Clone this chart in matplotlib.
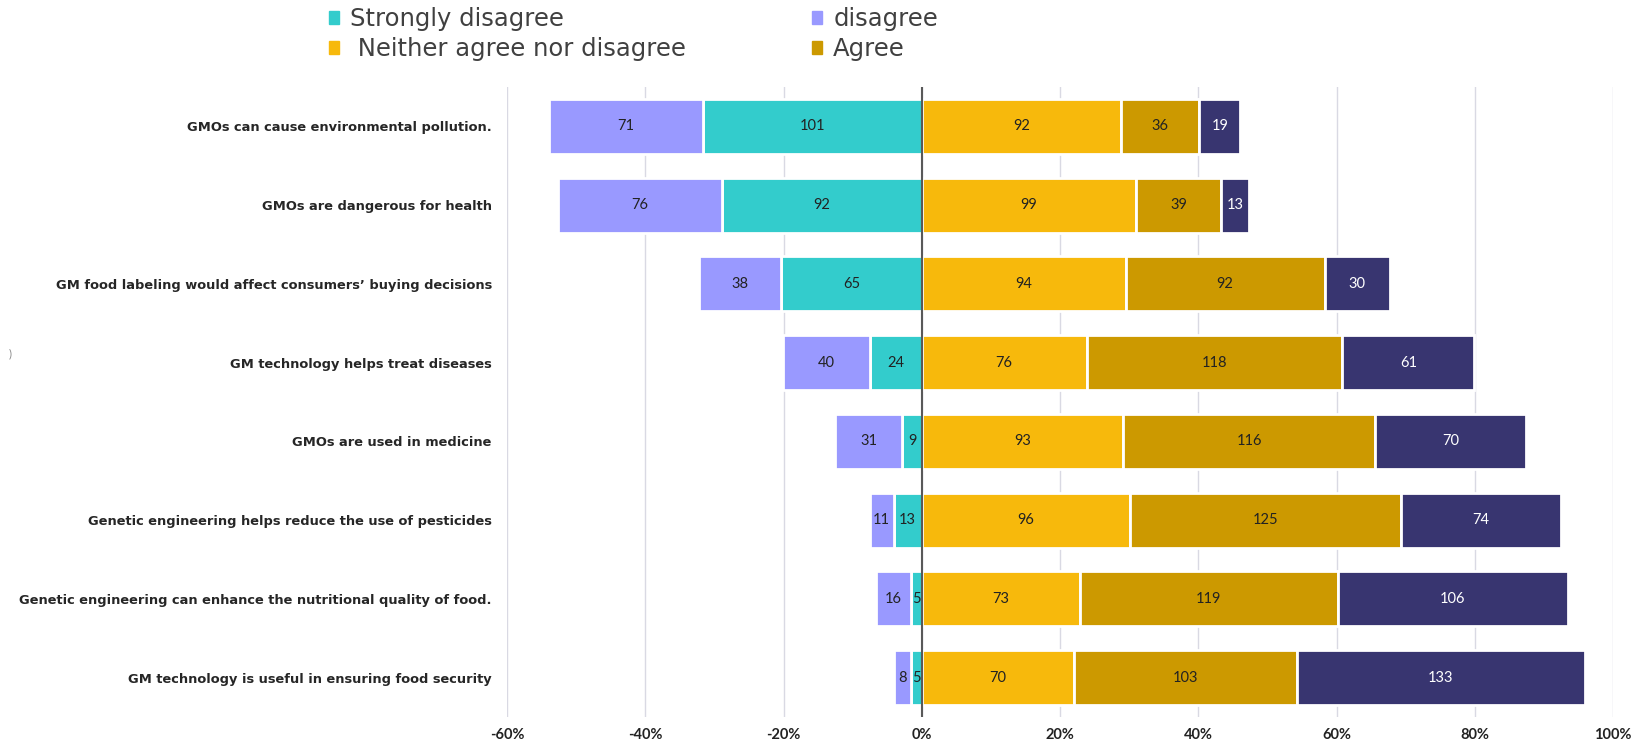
import numpy as np
import matplotlib.pyplot as plt
from matplotlib.patches import Patch
from matplotlib.ticker import FuncFormatter

statements = [
    "GMOs can cause environmental pollution.",
    "GMOs are dangerous for health",
    "GM food labeling would affect consumers\u2019 buying decisions",
    "GM technology helps treat diseases",
    "GMOs are used in medicine",
    "Genetic engineering helps reduce the use of pesticides",
    "Genetic engineering can enhance the nutritional quality of food.",
    "GM technology is useful in ensuring food security",
]

strongly_disagree = [101, 92, 65, 24, 9, 13, 5, 5]
disagree = [71, 76, 38, 40, 31, 11, 16, 8]
neutral = [92, 99, 94, 76, 93, 96, 73, 70]
agree = [36, 39, 92, 118, 116, 125, 119, 103]
strongly_agree = [19, 13, 30, 61, 70, 74, 106, 133]

x_ticks = [-0.6, -0.4, -0.2, 0.0, 0.2, 0.4, 0.6, 0.8, 1.0]

colors = {
    "sd": "#33CCCC",
    "d": "#9999FF",
    "n": "#F7B90C",
    "a": "#CC9900",
    "sa": "#383570",
}

plt.rcParams["font.family"] = ["Lato", "DejaVu Sans"]

sd = np.array(strongly_disagree)
d = np.array(disagree)
n = np.array(neutral)
a = np.array(agree)
sa = np.array(strongly_agree)
total = sd + d + n + a + sa

y = np.arange(len(statements))
fig = plt.figure(figsize=(16.32, 7.44), dpi=100)
ax = fig.add_axes([0.3107, 0.0363, 0.6777, 0.8467])

# negative side: strongly disagree next to zero, disagree beyond it
segments = [
    (sd, -sd / total, 0, colors["sd"], "#222222"),
    (d, -d / total, -sd / total, colors["d"], "#222222"),
    (n, n / total, 0, colors["n"], "#222222"),
    (a, a / total, n / total, colors["a"], "#222222"),
    (sa, sa / total, (n + a) / total, colors["sa"], "white"),
]

for counts, width, left, col, txt in segments:
    bars = ax.barh(y, width, left=left, height=0.7, color=col,
                   edgecolor="white", linewidth=2, zorder=2)
    for i, b in enumerate(bars):
        cx = b.get_x() + b.get_width() / 2
        ax.text(cx, y[i], str(counts[i]), ha="center", va="center",
                fontsize=10.5, color=txt, zorder=3)

ax.axvline(0, color="#595959", linewidth=1.5, zorder=4)

ax.set_xlim(-0.6, 1.0)
ax.set_ylim(len(statements) - 0.5, -0.5)
ax.set_xticks(x_ticks)
ax.xaxis.set_major_formatter(FuncFormatter(lambda v, _: f"{v * 100:.0f}%"))
ax.grid(axis="x", color="#D9D9E3", linewidth=1, zorder=0)
ax.set_axisbelow(True)
ax.set_yticks(y)
ax.set_yticklabels(statements, fontsize=9.4, fontweight="bold", color="#262626",
                   family="DejaVu Sans")
ax.tick_params(axis="both", length=0)
ax.tick_params(axis="y", pad=11)
ax.tick_params(axis="x", pad=8, labelsize=10.5, labelcolor="#222222")
for lbl in ax.get_xticklabels():
    lbl.set_fontweight("bold")
for s in ax.spines.values():
    s.set_visible(False)

handles = [
    Patch(color=colors["sd"], label="Strongly disagree"),
    Patch(color=colors["d"], label="disagree"),
    Patch(color=colors["n"], label=" Neither agree nor disagree"),
    Patch(color=colors["a"], label="Agree"),
]
fig.legend(handles=[handles[0], handles[2], handles[1], handles[3]], ncol=2,
           loc="upper left", bbox_to_anchor=(0.188, 1.02), frameon=False,
           prop={"family": "DejaVu Sans", "size": 17.5},
           handlelength=0.42, handleheight=0.42, handletextpad=0.45,
           columnspacing=5.2, labelspacing=0.25, labelcolor="#404040")

fig.text(0.005, 0.525, ")", fontsize=8, color="#888888", va="center")

fig.savefig("out.png", dpi=100)
